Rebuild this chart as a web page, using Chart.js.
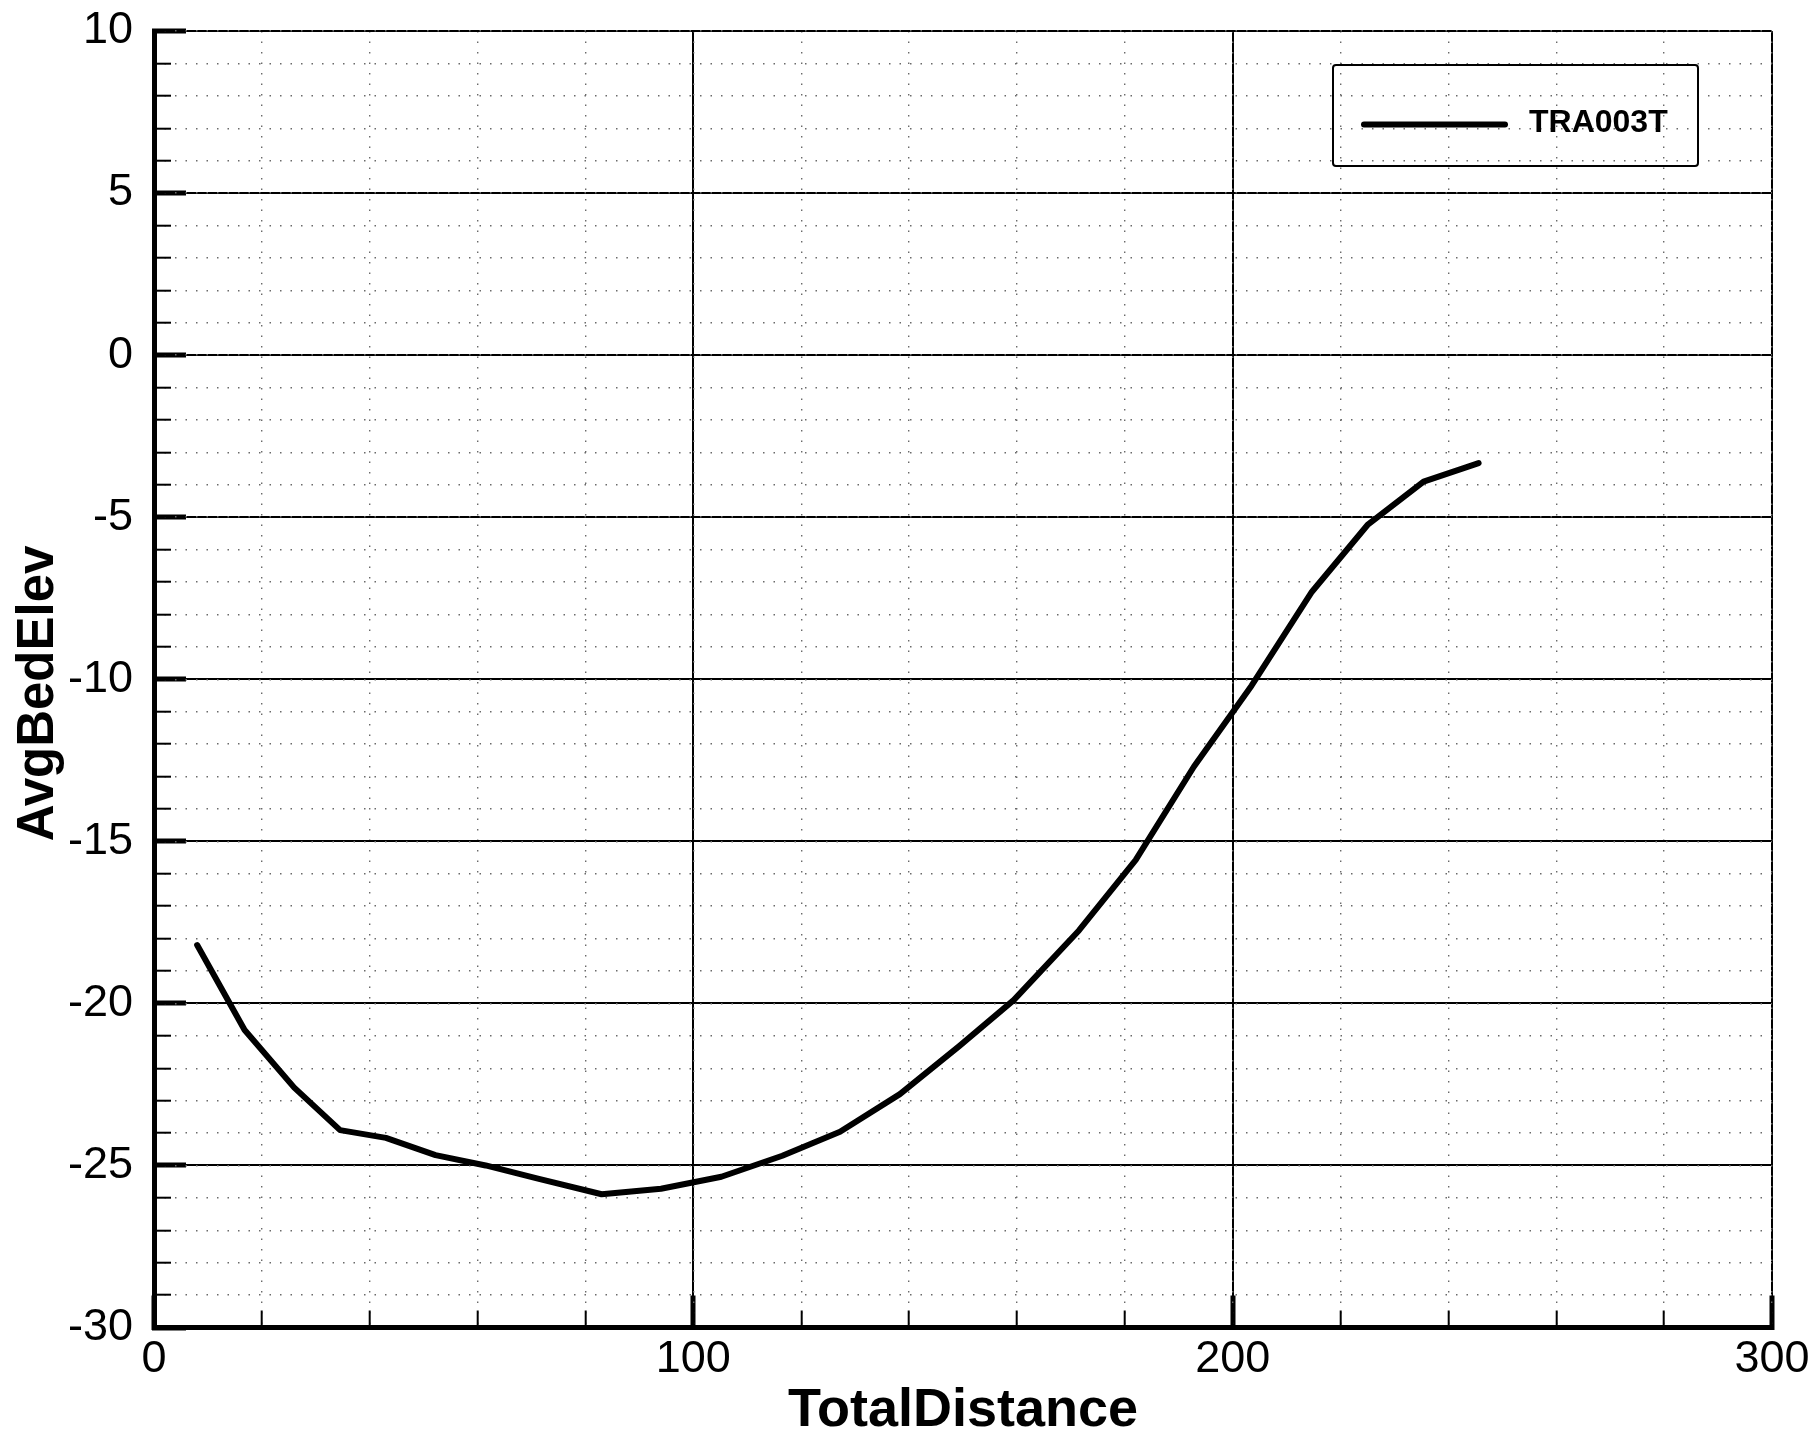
<!DOCTYPE html>
<html>
<head>
<meta charset="utf-8">
<title>AvgBedElev vs TotalDistance</title>
<script src="https://cdn.jsdelivr.net/npm/chart.js@4.4.1/dist/chart.umd.min.js"></script>
<style>
  html, body { margin: 0; padding: 0; background: #ffffff; }
  canvas { display: block; }
</style>
</head>
<body>
<canvas id="profile" width="1818" height="1435"></canvas>
<script>
// Bed elevation profile along the transect
const seriesName = 'TRA003T';
const totalDistance = [8, 16.8, 26, 34.5, 43, 52.2, 61.5, 71, 83, 94, 105.2, 116.5,
                       127.2, 138.3, 149.3, 159.4, 171.5, 182, 192.8, 203.5, 214.7, 225, 235.4, 245.6];
const avgBedElev = [-18.2, -20.82, -22.6, -23.91, -24.15, -24.68, -25.0, -25.4, -25.89, -25.72, -25.35, -24.7,
                    -23.96, -22.8, -21.32, -19.9, -17.75, -15.58, -12.7, -10.2, -7.3, -5.24, -3.9, -3.33];

const xTitle = 'TotalDistance';
const yTitle = 'AvgBedElev';
const xRange = [0, 300];
const yRange = [-30, 10];
const xMajorStep = 100, xMinorStep = 20;
const yMajorStep = 5, yMinorStep = 1;

const FONT = '"Liberation Sans", Arial, Helvetica, sans-serif';
const INK = '#000000';
const DOTS = '#6a6a6a';

// The plot frame is fixed by the layout padding; label overhang must not shrink it.
function fixSize(prop, value) {
  return function (scale) {
    scale[prop] = value;
    scale.paddingTop = 0;
    scale.paddingBottom = 0;
    scale.paddingLeft = 0;
    scale.paddingRight = 0;
  };
}

// Boxed legend in the upper right of the plot
const boxedLegend = {
  id: 'boxedLegend',
  afterDraw(chart) {
    const { ctx, chartArea } = chart;
    const ds = chart.data.datasets[0];
    const right = chartArea.right - 74;
    const top = chartArea.top + 34;
    const left = right - 365;
    const bottom = top + 101;
    const midY = (top + bottom) / 2 + 9;
    ctx.save();
    ctx.strokeStyle = INK;
    ctx.lineWidth = 2;
    ctx.beginPath();
    ctx.roundRect(left, top, right - left, bottom - top, 3);
    ctx.stroke();
    ctx.lineWidth = ds.borderWidth;
    ctx.lineCap = 'round';
    ctx.strokeStyle = ds.borderColor;
    ctx.beginPath();
    ctx.moveTo(left + 31, midY);
    ctx.lineTo(left + 172, midY);
    ctx.stroke();
    ctx.fillStyle = INK;
    ctx.font = 'bold 32px ' + FONT;
    ctx.textBaseline = 'middle';
    ctx.textAlign = 'left';
    ctx.fillText(ds.label, left + 196, midY - 1);
    ctx.restore();
  }
};

new Chart(document.getElementById('profile'), {
  type: 'line',
  data: {
    datasets: [{
      label: seriesName,
      data: totalDistance.map((d, i) => ({ x: d, y: avgBedElev[i] })),
      borderColor: INK,
      borderWidth: 6,
      borderJoinStyle: 'round',
      borderCapStyle: 'round',
      pointRadius: 0,
      tension: 0,
      fill: false
    }]
  },
  options: {
    responsive: false,
    animation: false,
    devicePixelRatio: 1,
    layout: { padding: { top: 31, right: 46, bottom: 0, left: 0 } },
    plugins: { legend: { display: false }, tooltip: { enabled: false } },
    scales: {
      x: {
        type: 'linear', position: 'bottom', weight: 0,
        min: xRange[0], max: xRange[1],
        ticks: { stepSize: xMajorStep, color: INK, font: { family: FONT, size: 45 }, padding: 37, maxRotation: 0, autoSkip: false },
        grid: { color: INK, lineWidth: 2, tickLength: -32, tickWidth: 5, tickColor: INK, tickBorderDash: [] },
        border: { display: true, color: INK, width: 5 },
        title: { display: true, text: xTitle, color: INK,
                 font: { family: FONT, size: 54, weight: 'bold', lineHeight: 0.9 }, padding: { top: 0, bottom: 0 } },
        afterFit: fixSize('height', 107.5)
      },
      xMinor: {
        type: 'linear', axis: 'x', position: 'bottom', weight: -1,
        min: xRange[0], max: xRange[1],
        ticks: { display: false, stepSize: xMinorStep, autoSkip: false },
        grid: { color: DOTS, lineWidth: 1.4, tickLength: -17, tickWidth: 2, tickColor: INK, tickBorderDash: [] },
        border: { display: false, dash: [1.5, 9] },
        afterFit: fixSize('height', 0)
      },
      y: {
        type: 'linear', position: 'left', weight: 0,
        min: yRange[0], max: yRange[1],
        ticks: { stepSize: yMajorStep, color: INK, font: { family: FONT, size: 45 }, padding: 53, autoSkip: false },
        grid: { color: INK, lineWidth: 2, tickLength: -32, tickWidth: 5, tickColor: INK, tickBorderDash: [] },
        border: { display: true, color: INK, width: 5 },
        title: { display: true, text: yTitle + '  ', color: INK,
                 font: { family: FONT, size: 51, weight: 'bold', lineHeight: 1 }, padding: { top: 13, bottom: 0 } },
        afterFit: fixSize('width', 154)
      },
      yMinor: {
        type: 'linear', axis: 'y', position: 'left', weight: -1,
        min: yRange[0], max: yRange[1],
        ticks: { display: false, stepSize: yMinorStep, autoSkip: false },
        grid: { color: DOTS, lineWidth: 1.4, tickLength: -17, tickWidth: 2, tickColor: INK, tickBorderDash: [] },
        border: { display: false, dash: [1.5, 9] },
        afterFit: fixSize('width', 0)
      }
    }
  },
  plugins: [boxedLegend]
});
</script>
</body>
</html>
